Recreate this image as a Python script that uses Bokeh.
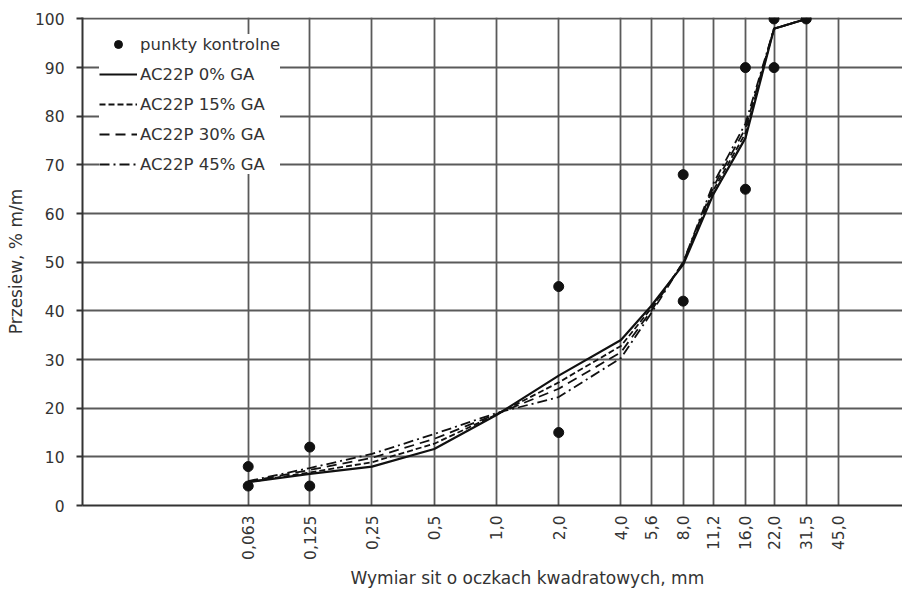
from math import pi
from bokeh.plotting import figure
from bokeh.models import Range1d, FixedTicker, Legend, LegendItem, Title
from bokeh.embed import file_html
from bokeh.resources import INLINE

# ---- data ----
sieves = [0.063, 0.125, 0.25, 0.5, 1.0, 2.0, 4.0, 5.6, 8.0, 11.2, 16.0, 22.0, 31.5, 45.0]
sieve_labels = ["0,063", "0,125", "0,25", "0,5", "1,0", "2,0", "4,0", "5,6",
                "8,0", "11,2", "16,0", "22,0", "31,5", "45,0"]
y_ticks = [0, 10, 20, 30, 40, 50, 60, 70, 80, 90, 100]

curve_x = [0.063, 0.125, 0.25, 0.5, 1.0, 2.0, 4.0, 5.6, 8.0, 11.2, 16.0, 22.0, 31.5]
ga0 = [4.8, 6.5, 8.0, 11.6, 18.6, 26.7, 34.0, 41.0, 49.5, 64.0, 75.5, 98.0, 100.0]
ga15 = [4.8, 6.8, 8.9, 12.7, 18.7, 25.3, 32.8, 40.5, 49.8, 64.8, 76.5, 98.0, 100.0]
ga30 = [4.9, 7.3, 9.8, 13.7, 18.8, 24.0, 31.5, 40.0, 50.0, 65.5, 77.5, 98.0, 100.0]
ga45 = [5.0, 7.7, 10.6, 14.7, 19.0, 22.3, 30.3, 39.5, 50.0, 66.2, 78.5, 98.0, 100.0]

ctrl_x = [0.063, 0.063, 0.125, 0.125, 2.0, 2.0, 8.0, 8.0, 16.0, 16.0, 22.0, 22.0, 31.5]
ctrl_y = [4, 8, 4, 12, 15, 45, 42, 68, 65, 90, 90, 100, 100]

series_names = ["AC22P 0% GA", "AC22P 15% GA", "AC22P 30% GA", "AC22P 45% GA"]
ctrl_name = "punkty kontrolne"
x_title = "Wymiar sit o oczkach kwadratowych, mm"
y_title = "Przesiew, % m/m"

FONT = "DejaVu Sans"
TXT = "#333333"
GRID = "#5a5a5a"

p = figure(width=902, height=594, x_axis_type="log",
           x_range=Range1d(0.00995, 92.0), y_range=Range1d(0, 100.3),
           output_backend="svg", toolbar_location=None,
           min_border_left=82, min_border_right=0, min_border_top=17,
           min_border_bottom=89)
p.outline_line_color = None
p.background_fill_color = "white"
p.border_fill_color = "white"

# x axis
p.xaxis.ticker = FixedTicker(ticks=sieves)
p.xaxis.major_label_overrides = dict(zip(sieves, sieve_labels))
p.xaxis.major_label_orientation = pi / 2
p.xaxis.major_tick_out = 0
p.xaxis.major_tick_in = 0
p.xaxis.minor_tick_line_color = None
p.xaxis.major_label_standoff = 10
p.xgrid.ticker = FixedTicker(ticks=sieves)
p.xgrid.grid_line_color = GRID
p.xgrid.grid_line_width = 1.8
p.xgrid.minor_grid_line_color = None

# y axis
p.yaxis.ticker = FixedTicker(ticks=y_ticks)
p.ygrid.ticker = FixedTicker(ticks=y_ticks)
p.ygrid.grid_line_color = GRID
p.ygrid.grid_line_width = 1.8
p.yaxis.major_tick_out = 6
p.yaxis.major_tick_in = 0
p.yaxis.minor_tick_line_color = None
p.yaxis.major_label_standoff = 12
p.yaxis.axis_label = y_title
p.yaxis.axis_label_standoff = 6
p.yaxis.axis_label_text_font_style = "normal"

for ax in (p.xaxis, p.yaxis):
    ax.axis_line_color = "#333333"
    ax.axis_line_width = 2
    ax.major_tick_line_color = "#333333"
    ax.major_tick_line_width = 2
    ax.major_label_text_font = FONT
    ax.major_label_text_font_size = "15.5px"
    ax.major_label_text_color = TXT
    ax.axis_label_text_font = FONT
    ax.axis_label_text_font_size = "17px"
    ax.axis_label_text_color = TXT

# glyphs
dashes = ["solid", "6 3", "10 6", "10 4 2 4"]
widths = [2.2, 1.8, 1.8, 1.8]
renderers = []
for ys, d, w in zip([ga0, ga15, ga30, ga45], dashes, widths):
    r = p.line(curve_x, ys, line_color="#111111", line_width=w, line_dash=d)
    renderers.append(r)
rc = p.scatter(ctrl_x, ctrl_y, size=10, fill_color="#111111", line_color="#111111")

items = [LegendItem(label=ctrl_name, renderers=[rc])]
for name, r in zip(series_names, renderers):
    items.append(LegendItem(label=name, renderers=[r]))

legend = Legend(items=items, location="top_left", margin=17, padding=5,
                spacing=10, label_height=20, glyph_height=20, glyph_width=38,
                label_standoff=3, background_fill_color="white",
                background_fill_alpha=1.0, border_line_color=None,
                label_text_font=FONT, label_text_font_size="16.5px",
                label_text_color=TXT)
p.add_layout(legend)

xtitle = Title(text=x_title, align="left", offset=268, standoff=7,
               text_font=FONT, text_font_size="17px", text_font_style="normal",
               text_color=TXT)
p.add_layout(xtitle, "below")

open("out.html", "w").write(file_html(p, INLINE))
